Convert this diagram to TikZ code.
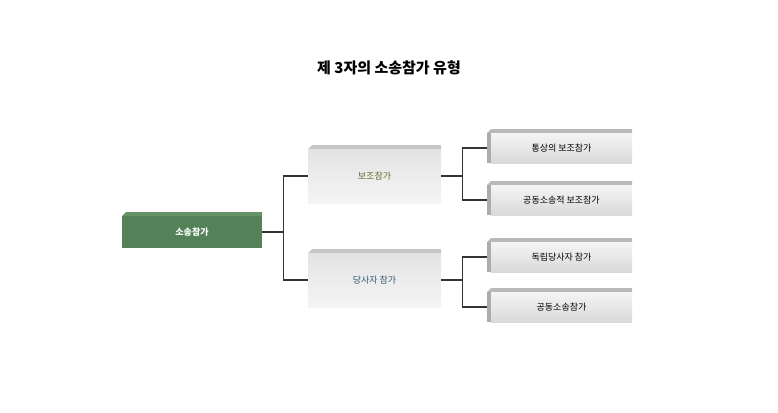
\documentclass[tikz,border=0pt]{standalone}
\usepackage{fontspec}
\newfontfamily\kr{Noto Sans CJK KR}
\begin{document}
\begin{tikzpicture}[x=1pt,y=-1pt,
 gbox/.style={draw=none,shade,top color=gray!12,bottom color=gray!30,minimum height=#1},
 edge/.style={draw=black!80,line width=1.2pt}]
\useasboundingbox (0,0) rectangle (778,412);
\node[font=\kr\bfseries\fontsize{15}{18}\selectfont] (title) at (389,68) {제 3자의 소송참가 유형};
% green
\fill[green!30!black!60] (122,216)--(126,212)--(262,212)--(262,216)--cycle;
\node[fill={rgb,255:red,84;green,130;blue,88},minimum width=140pt,minimum height=32pt,inner sep=0,font=\kr\bfseries\fontsize{9}{10}\selectfont,text=white] (root) at (192,232) {소송참가};
% mid
\foreach \n/\y/\t/\c in {a/174/보조참가/{rgb,255:red,90;green,110;blue,40},b/278/당사자 참가/{rgb,255:red,50;green,90;blue,120}}{
 \fill[gray!45] (308,\y-25)--(312,\y-29)--(441,\y-29)--(441,\y-25)--cycle;
 \node[shade,top color=gray!22,bottom color=gray!8,minimum width=133pt,minimum height=54pt,inner sep=0,font=\kr\fontsize{9}{10}\selectfont,text=\c] (\n) at (374.5,\y+2) {\t};
}
% right
\foreach \n/\y/\t in {c/148/통상의 보조참가,d/200/공동소송적 보조참가,e/257/독립당사자 참가,f/307/공동소송참가}{
 \fill[gray!55] (487,\y-15)--(491,\y-19)--(632,\y-19)--(632,\y-15)--cycle;
 \fill[gray!65] (487,\y-15) rectangle (491,\y+15);
 \node[shade,top color=gray!8,bottom color=gray!30,minimum width=141pt,minimum height=30pt,inner sep=0,font=\kr\fontsize{9}{10}\selectfont] (\n) at (561.5,\y) {\t};
}
\draw[edge] (root.east) -- ++(21,0) coordinate (j1);
\draw[edge] (j1 |- a.west) -- (j1 |- b.west);
\draw[edge] (j1 |- a.west) -- (a.west);
\draw[edge] (j1 |- b.west) -- (b.west);
\draw[edge] (a.east) -- ++(21,0) coordinate (j2);
\draw[edge] (j2 |- c.west) -- (j2 |- d.west);
\draw[edge] (j2 |- c.west) -- ([xshift=-4pt]c.west);
\draw[edge] (j2 |- d.west) -- ([xshift=-4pt]d.west);
\draw[edge] (b.east) -- ++(21,0) coordinate (j3);
\draw[edge] (j3 |- e.west) -- (j3 |- f.west);
\draw[edge] (j3 |- e.west) -- ([xshift=-4pt]e.west);
\draw[edge] (j3 |- f.west) -- ([xshift=-4pt]f.west);
\end{tikzpicture}
\end{document}
